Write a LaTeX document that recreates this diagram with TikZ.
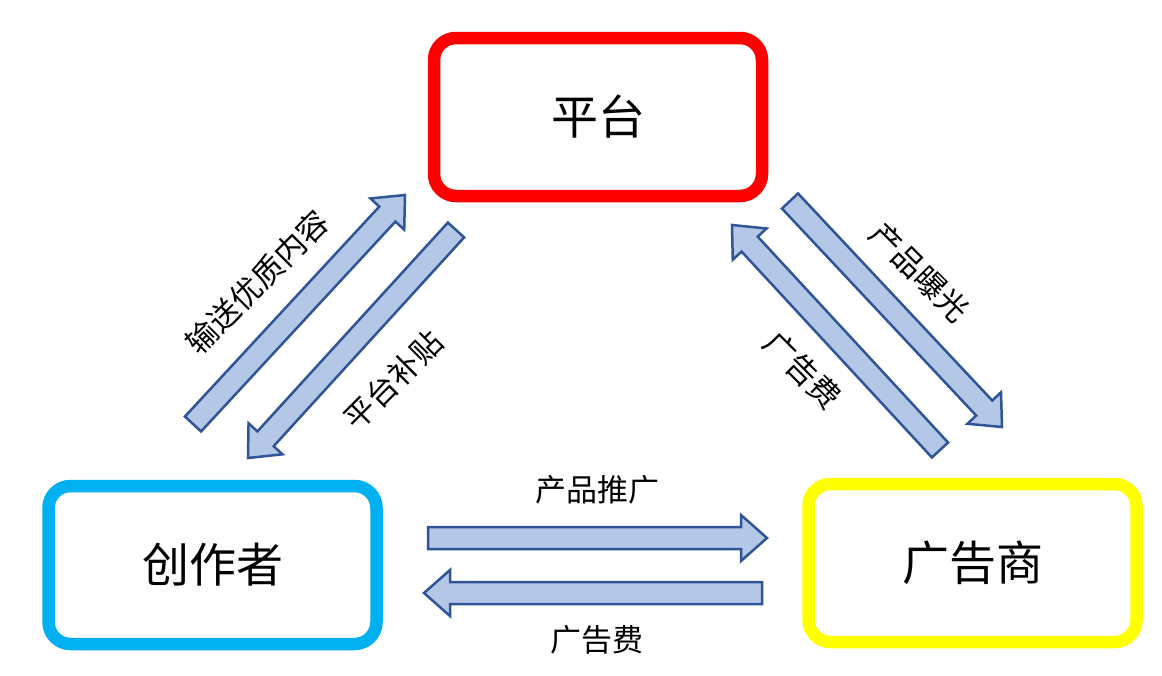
\documentclass[tikz,border=0pt]{standalone}
\usepackage{fontspec}
\setmainfont{Noto Sans CJK SC}
\usetikzlibrary{calc}
\definecolor{boxred}{HTML}{FF0000}
\definecolor{boxcyan}{HTML}{00B0F0}
\definecolor{boxyellow}{HTML}{FFFF00}
\definecolor{arrfill}{HTML}{B4C7E7}
\definecolor{arrline}{HTML}{2F5597}
\tikzset{
  mainbox/.style={draw, line width=12.5pt, rounded corners=22pt, minimum width=328pt, minimum height=158pt, font=\fontsize{47}{50}\selectfont, inner sep=0pt},
  barrow/.style={draw=arrline, fill=arrfill, line width=2.5pt, line join=miter},
  lbl/.style={font=\fontsize{31}{34}\selectfont, inner sep=0pt}
}
\newcommand\blockarrow[2]{%
  \path coordinate (ba-h) at ($(#2)!26pt!(#1)$);
  \draw[barrow] ($(#1)!11pt!90:(#2)$) -- ($(ba-h)!11pt!-90:(#1)$) -- ($(ba-h)!23pt!-90:(#1)$) -- (#2) -- ($(ba-h)!23pt!90:(#1)$) -- ($(ba-h)!11pt!90:(#1)$) -- ($(#1)!11pt!-90:(#2)$) -- cycle;
}
\begin{document}
\begin{tikzpicture}[x=1pt,y=-1pt]
\useasboundingbox[fill=white] (0,0) rectangle (1162,675);
\node[mainbox, draw=boxred] (plat) at (598,117) {平台};
\node[mainbox, draw=boxcyan] (crea) at (212.5,565) {创作者};
\node[mainbox, draw=boxyellow] (adv) at (972.5,563) {广告商};
% arrow end points
\coordinate (a1t) at (193,424); \coordinate (a1h) at (405,195);
\coordinate (a2t) at (456,230); \coordinate (a2h) at (248,458);
\coordinate (a3t) at (790,201); \coordinate (a3h) at (1002,427);
\coordinate (a4t) at (940,450); \coordinate (a4h) at (732,225);
\coordinate (a5t) at (428,538); \coordinate (a5h) at (767,538);
\coordinate (a6t) at (762,593); \coordinate (a6h) at (424,593);
\blockarrow{a1t}{a1h}
\blockarrow{a2t}{a2h}
\blockarrow{a3t}{a3h}
\blockarrow{a4t}{a4h}
\blockarrow{a5t}{a5h}
\blockarrow{a6t}{a6h}
% labels
\node[lbl, rotate=45] (l1) at (257,282) {输送优质内容};
\node[lbl, rotate=45] (l2) at (393,380) {平台补贴};
\node[lbl, rotate=-45] (l3) at (920,272) {产品曝光};
\node[lbl, rotate=-45] (l4) at (803,370) {广告费};
\node[lbl] (l5) at (597,490) {产品推广};
\node[lbl] (l6) at (597,640) {广告费};
\end{tikzpicture}
\end{document}
